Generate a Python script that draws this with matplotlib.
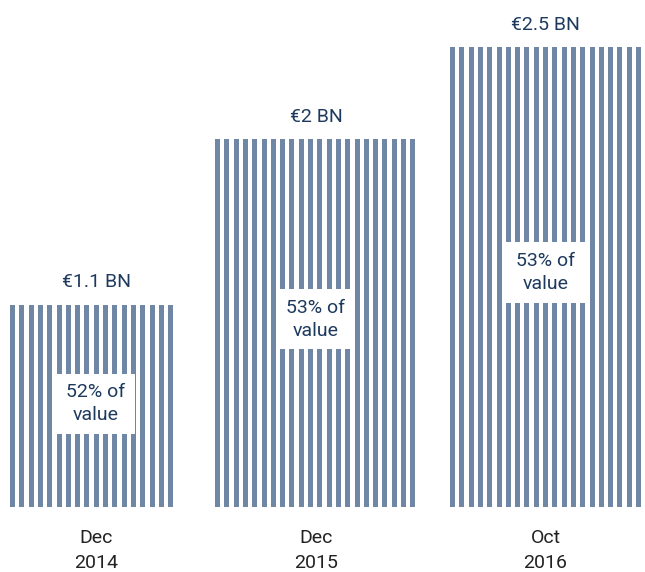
import matplotlib.pyplot as plt
import numpy as np

# chart data
periods = ["Dec\n2014", "Dec\n2015", "Oct\n2016"]
values = [1.1, 2.0, 2.5]                # EUR billions
value_labels = ["€1.1 BN", "€2 BN", "€2.5 BN"]
share_labels = ["52% of\nvalue", "53% of\nvalue", "53% of\nvalue"]

# layout (pixel-like x units)
bar_left = [10, 215, 450]
bar_width = [172, 202, 191]
stripe_period = 9.3
stripe_width = 5.0

STRIPE = "#6f86a5"
TEXT = "#1d3a5e"
TICK = "#222222"

plt.rcParams['font.family'] = ['Roboto', 'DejaVu Sans']

fig = plt.figure(figsize=(6.45, 5.72), dpi=100)
ax = fig.add_axes([0, 0, 1, 1])
scale = 184.0  # px per BN
ax.set_xlim(0, 645)
ax.set_ylim(-65 / scale, (572 - 65) / scale)
ax.axis("off")

for i, v in enumerate(values):
    n = int(round(bar_width[i] / stripe_period))
    xs = bar_left[i] + np.arange(n) * stripe_period
    ax.bar(xs, v, width=stripe_width, align="edge", color=STRIPE, linewidth=0)
    cx = bar_left[i] + bar_width[i] / 2
    # value on top
    ax.annotate(value_labels[i], (cx, v), xytext=(0, 16), textcoords="offset points",
                ha="center", va="center", fontsize=14, color=TEXT)
    # share label in a white box
    ax.text(cx, v * 0.51, share_labels[i], ha="center", va="center",
            fontsize=14, color=TEXT, linespacing=1.35,
            bbox=dict(facecolor="white", edgecolor="none", pad=7))
    # period label under the bar
    ax.text(cx, -22 / scale, periods[i], ha="center", va="top",
            fontsize=14, color=TICK, linespacing=1.5)

fig.savefig("out.png", dpi=100, facecolor="white")
